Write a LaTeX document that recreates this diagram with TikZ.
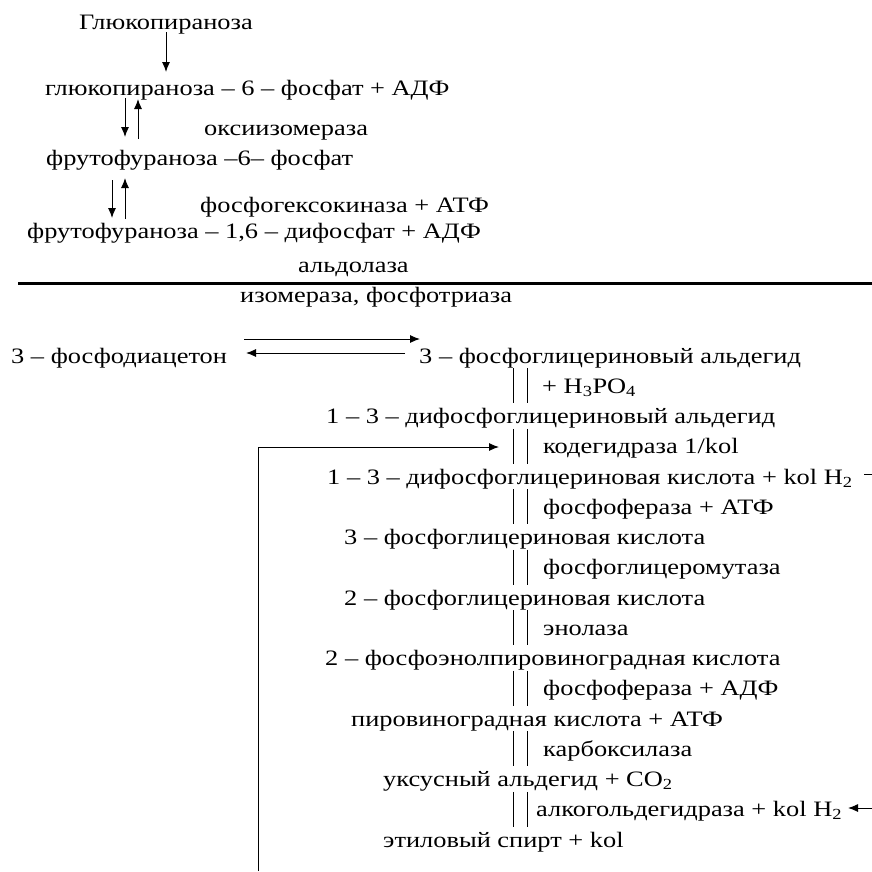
\documentclass[tikz,border=0pt]{standalone}
\usepackage{fontspec}
\setmainfont[FakeStretch=1.2]{Liberation Serif}
\usetikzlibrary{arrows.meta}
\begin{document}
\begin{tikzpicture}[x=1pt,y=-1pt,
  txt/.style={anchor=base west, inner sep=0pt, font=\fontsize{22}{26}\selectfont},
  arr/.style={line width=1pt, -{Latex[length=10pt,width=8pt]}},
  bar/.style={line width=1pt},
  rule/.style={line width=3pt}]
\useasboundingbox (0,0) rectangle (872,871);

% --- hexose phosphorylation ---
\node[txt] (g)   at (79,29)  {Глюкопираноза};
\node[txt] (g6)  at (45,95)  {глюкопираноза – 6 – фосфат + АДФ};
\node[txt] (oki) at (204,135) {оксиизомераза};
\node[txt] (f6)  at (46,165) {фрутофураноза –6– фосфат};
\node[txt] (fgk) at (200,212) {фосфогексокиназа + АТФ};
\node[txt] (f16) at (27,238) {фрутофураноза – 1,6 – дифосфат + АДФ};
\node[txt] (ald) at (298,272) {альдолаза};
\node[txt] (izo) at (240,302) {изомераза, фосфотриаза};

\coordinate (sepL) at (18,283);
\coordinate (sepR) at (872,283);
\draw[rule] (sepL) -- (sepR);

\coordinate (a0s) at (166,32);  \coordinate (a0e) at (166,72);
\draw[arr] (a0s) -- (a0e);
\coordinate (a1s) at (125,98);  \coordinate (a1e) at (125,137);
\coordinate (a2s) at (138,139); \coordinate (a2e) at (138,99);
\draw[arr] (a1s) -- (a1e);
\draw[arr] (a2s) -- (a2e);
\coordinate (a3s) at (112,180); \coordinate (a3e) at (112,218);
\coordinate (a4s) at (125,219); \coordinate (a4e) at (125,178);
\draw[arr] (a3s) -- (a3e);
\draw[arr] (a4s) -- (a4e);

% --- triose branch ---
\node[txt] (fda) at (11,363)  {3 – фосфодиацетон};
\node[txt] (r0)  at (419,363) {3 – фосфоглицериновый альдегид};
\coordinate (e1s) at (244,339); \coordinate (e1e) at (420,339);
\coordinate (e2s) at (405,353); \coordinate (e2e) at (246,353);
\draw[arr] (e1s) -- (e1e);
\draw[arr] (e2s) -- (e2e);

% --- glycolysis chain ---
\def\rowy#1{363+30.25*#1}
\node[txt] (l1)  at (542,{\rowy{1}})  {+ H\textsubscript{3}PO\textsubscript{4}};
\node[txt] (r2)  at (326,{\rowy{2}})  {1 – 3 – дифосфоглицериновый альдегид};
\node[txt] (l3)  at (543,{\rowy{3}})  {кодегидраза 1/kol};
\node[txt] (r4)  at (327,{\rowy{4}})  {1 – 3 – дифосфоглицериновая кислота + kol H\textsubscript{2}};
\node[txt] (l5)  at (543,{\rowy{5}})  {фосфофераза + АТФ};
\node[txt] (r6)  at (344,{\rowy{6}})  {3 – фосфоглицериновая кислота};
\node[txt] (l7)  at (543,{\rowy{7}})  {фосфоглицеромутаза};
\node[txt] (r8)  at (344,{\rowy{8}})  {2 – фосфоглицериновая кислота};
\node[txt] (l9)  at (543,{\rowy{9}})  {энолаза};
\node[txt] (r10) at (325,{\rowy{10}}) {2 – фосфоэнолпировиноградная кислота};
\node[txt] (l11) at (543,{\rowy{11}}) {фосфофераза + АДФ};
\node[txt] (r12) at (351,{\rowy{12}}) {пировиноградная кислота + АТФ};
\node[txt] (l13) at (543,{\rowy{13}}) {карбоксилаза};
\node[txt] (r14) at (383,{\rowy{14}}) {уксусный альдегид + CO\textsubscript{2}};
\node[txt] (l15) at (536,{\rowy{15}}) {алкогольдегидраза + kol H\textsubscript{2}};
\node[txt] (r16) at (383,{\rowy{16}}) {этиловый спирт + kol};

% double bars beside every enzyme label
\foreach \k in {1,3,5,7,9,11,13,15}{
  \draw[bar] (513,{\rowy{\k}-25}) -- (513,{\rowy{\k}+10});
  \draw[bar] (527,{\rowy{\k}-25}) -- (527,{\rowy{\k}+10});
}

% coenzyme return loop
\coordinate (lpB) at (258,871);
\coordinate (lpC) at (258,447);
\coordinate (lpE) at (499,447);
\draw[arr] (lpB) -- (lpC) -- (lpE);
\coordinate (h2a) at (864,474);
\coordinate (h2b) at (872,474);
\draw[bar] (h2a) -- (h2b);
\coordinate (h2c) at (872,808);
\coordinate (h2d) at (848,808);
\draw[arr] (h2c) -- (h2d);
\end{tikzpicture}
\end{document}
